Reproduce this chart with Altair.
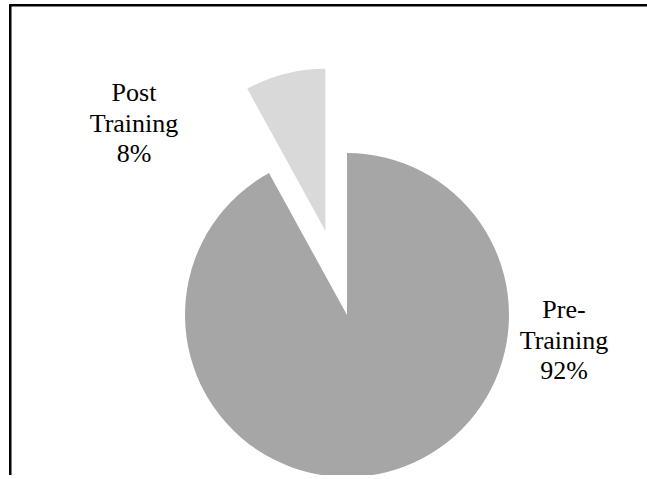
import altair as alt
import pandas as pd

categories = ["Pre-Training", "Post Training"]
values = [92, 8]
label_lines = ["Pre-\nTraining", "Post\nTraining"]
colors = ["#a6a6a6", "#d9d9d9"]

df = pd.DataFrame({
    "category": categories,
    "value": values,
    "idx": list(range(len(categories))),
    "name": label_lines,
})

W, H = 647, 475
CX, CY, R = 347, 315, 162
EXPLODE = 87  # px the "Post Training" slice is pulled out

base = alt.Chart(df).transform_joinaggregate(
    total="sum(value)"
).transform_window(
    cum="sum(value)", sort=[alt.SortField("idx")], frame=[None, 0]
).transform_calculate(
    t1="datum.cum / datum.total * 2 * PI",
    t0="(datum.cum - datum.value) / datum.total * 2 * PI",
).transform_calculate(
    mid="(datum.t0 + datum.t1) / 2",
    ex=f"datum.category == 'Post Training' ? {EXPLODE} : 0",
).transform_calculate(
    cx=f"{CX} + datum.ex * sin(datum.mid)",
    cy=f"{CY} - datum.ex * cos(datum.mid)",
    label="datum.name + '\\n' + format(datum.value / datum.total, '.0%')",
)

arcs = base.mark_arc(outerRadius=R, stroke=None).encode(
    theta=alt.Theta("t0:Q", scale=None),
    theta2="t1:Q",
    x=alt.X("cx:Q", scale=None, axis=None),
    y=alt.Y("cy:Q", scale=None, axis=None),
    color=alt.Color("category:N", scale=alt.Scale(domain=categories, range=colors), legend=None),
)

font = "Liberation Serif"
txt_kw = dict(font=font, fontSize=26, lineBreak="\n", lineHeight=30.5, align="center",
              baseline="alphabetic", color="#000000")

pre_label = base.transform_filter("datum.category == 'Pre-Training'").mark_text(**txt_kw).encode(
    text="label:N", x=alt.value(564), y=alt.value(318)
)
post_label = base.transform_filter("datum.category == 'Post Training'").mark_text(**txt_kw).encode(
    text="label:N", x=alt.value(134), y=alt.value(101)
)

# frame: top and left edges only, drawn as thin filled rectangles
top_line = alt.Chart(df).transform_filter("datum.idx == 0").mark_rect(color="#000000").encode(
    x=alt.value(9), x2=alt.value(W), y=alt.value(4), y2=alt.value(6.5)
)
left_line = alt.Chart(df).transform_filter("datum.idx == 1").mark_rect(color="#000000").encode(
    x=alt.value(9), x2=alt.value(11.5), y=alt.value(4), y2=alt.value(H)
)

chart = alt.layer(arcs, pre_label, post_label, top_line, left_line).properties(
    width=W, height=H, autosize=alt.AutoSizeParams(type="none"), padding=0,
    background="#ffffff",
).configure_view(stroke="transparent")

chart.save("out.html", embed_options={"renderer": "svg", "actions": False})
